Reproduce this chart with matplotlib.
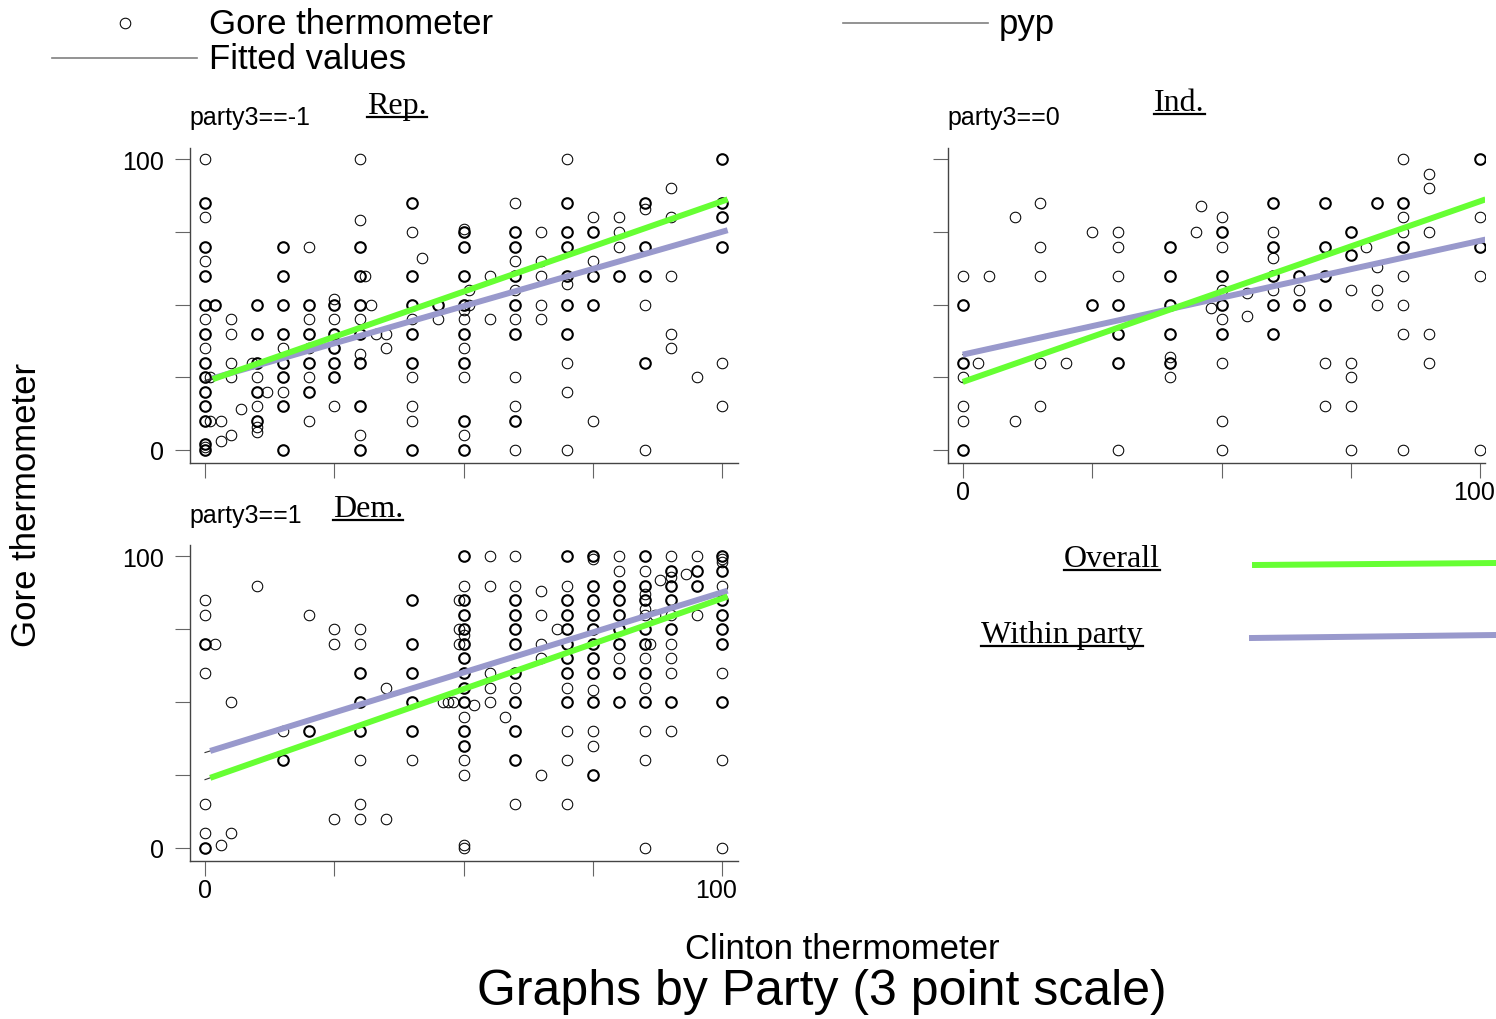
import matplotlib
matplotlib.use("Agg")
import matplotlib.pyplot as plt
from matplotlib.lines import Line2D
from matplotlib.transforms import ScaledTranslation
import numpy as np

W, H = 1496, 1020
SANS = "Liberation Sans"
SERIF = "Liberation Serif"

# points: x column -> list of y values; "multi" columns hold repeated answers
rep_single = {
    0: [100, 80, 65, 45, 35, 1], 1: [25, 10], 3: [10, 3], 5: [45, 40, 30, 25, 5],
    7: [14], 9: [30], 10: [25, 15, 8, 6], 12: [20], 15: [35, 20], 20: [70, 45, 35, 25, 10],
    25: [52, 45, 15], 30: [100, 79, 45, 33, 5], 31: [60], 32: [50], 33: [40], 35: [40, 35],
    40: [75, 45, 25, 15, 10], 42: [66], 45: [45], 50: [76, 48, 45, 35, 25, 5], 51: [55, 50],
    55: [60, 45], 60: [85, 65, 55, 45, 25, 15, 0], 65: [75, 65, 60, 50, 45],
    70: [100, 57, 30, 20, 0], 75: [80, 65, 10], 80: [80, 75, 70], 85: [83, 50, 0],
    90: [90, 80, 60, 40, 35], 95: [25], 100: [30, 15],
}
rep_multi = {
    0: [85, 70, 60, 50, 40, 30, 25, 20, 15, 10, 2, 0], 2: [50], 10: [50, 40, 30, 20, 10],
    15: [70, 60, 50, 40, 30, 25, 15, 0], 20: [50, 40, 30, 20], 25: [50, 40, 35, 30, 25],
    30: [70, 60, 50, 40, 30, 15, 0], 40: [85, 60, 50, 40, 30, 0], 45: [50],
    50: [75, 70, 60, 50, 40, 30, 10, 0], 60: [75, 70, 60, 50, 40, 10],
    70: [85, 75, 70, 60, 50, 40], 75: [75, 60, 50], 80: [60], 85: [85, 70, 60, 30],
    100: [100, 85, 80, 70],
}
ind_single = {
    0: [60, 25, 15, 10], 3: [30], 5: [60], 10: [80, 10], 15: [85, 70, 60, 30, 15], 20: [30],
    25: [75], 30: [75, 70, 60, 0], 40: [32, 25], 45: [75], 46: [84], 48: [49],
    50: [80, 70, 55, 45, 30, 10, 0], 55: [54, 46], 60: [75, 66, 55], 65: [55],
    70: [30, 15], 75: [55, 30, 25, 15, 0], 78: [70], 80: [63, 55, 50],
    85: [100, 80, 75, 60, 50, 40, 0], 90: [95, 90, 75, 40, 30], 100: [80, 60, 0],
}
ind_multi = {
    0: [50, 30, 0], 25: [50], 30: [50, 40, 30], 40: [70, 60, 50, 40, 30],
    50: [75, 60, 50, 40], 60: [85, 70, 60, 50, 40], 65: [60, 50], 70: [85, 70, 60, 50],
    75: [75, 67], 80: [85], 85: [85, 70], 100: [100, 70],
}
dem_single = {
    0: [85, 80, 60, 15, 5], 2: [70], 3: [1], 5: [50, 5], 10: [90], 15: [40], 20: [80],
    25: [75, 70, 10], 30: [75, 70, 30, 15, 10], 35: [55, 10], 40: [30], 46: [50],
    47: [50], 48: [50], 49: [85, 75, 70], 50: [90, 73, 45, 30, 25, 1, 0], 52: [49],
    55: [100, 90, 60, 55, 50], 58: [45], 60: [100, 90, 55, 15], 65: [88, 80, 70, 65, 25],
    68: [75], 70: [90, 55, 40, 30, 15], 75: [99, 54, 40, 35], 80: [100, 95, 65],
    85: [95, 87, 82, 80, 65, 55, 40, 30, 0], 86: [70], 87: [80], 88: [92],
    90: [100, 93, 80, 70, 65, 60, 40], 93: [94], 95: [100, 80], 100: [99, 98, 90, 60, 30, 0],
}
dem_multi = {
    0: [70, 0], 15: [30], 20: [40], 30: [60, 50, 40], 40: [85, 70, 60, 50, 40],
    50: [100, 85, 80, 75, 70, 65, 60, 55, 50, 40, 35], 60: [85, 80, 75, 70, 60, 50, 40, 30],
    70: [100, 85, 80, 75, 70, 65, 60, 50], 75: [100, 90, 85, 80, 75, 70, 65, 60, 50, 25],
    80: [90, 85, 80, 75, 70, 60, 50], 85: [100, 90, 85, 75, 70, 60, 50],
    90: [95, 90, 85, 75, 50], 95: [95, 90], 100: [100, 95, 85, 80, 75, 70, 50],
}

# fitted lines (intercept, slope)
overall_fit = (23.4, 0.622)
within_fit = {"rep": (23.9, 0.512), "ind": (32.8, 0.392), "dem": (32.7, 0.55)}

GREEN = "#66ff33"
PURPLE = "#9999cc"


def fx(px):
    return px / W


def fy(py):
    return 1 - py / H


def box(l, t, r, b):
    return [fx(l), fy(b), fx(r) - fx(l), fy(t) - fy(b)]


fig = plt.figure(figsize=(W / 100, H / 100), dpi=100)
fig.patch.set_facecolor("white")

panels = [
    ("rep", box(190, 149, 738, 464), rep_single, rep_multi, (-2.9, 103.0), 1.5, False, True),
    ("ind", box(948, 149, 1485, 464), ind_single, ind_multi, (-2.85, 100.9), 0.0, True, False),
    ("dem", box(190, 546, 738, 862), dem_single, dem_multi, (-2.9, 103.0), 1.0, True, True),
]

for key, pos, single, multi, xlim, x_start, xlab, ylab in panels:
    ax = fig.add_axes(pos)
    for cols, lw in ((single, 0.75), (multi, 1.5)):
        xs = [x for x, ys in cols.items() for _ in ys]
        ys = [y for ys in cols.values() for y in ys]
        ax.plot(xs, ys, "o", ms=7.6, mfc="none", mec="black", mew=lw, zorder=2)

    b0, b1 = within_fit[key]
    a0, a1 = overall_fit
    xx = np.array([0, 100])
    ax.plot(xx, b0 + b1 * xx, color="#333333", lw=0.8, zorder=3)
    ax.plot(xx, a0 + a1 * xx, color="#333333", lw=0.8, zorder=3)
    xt = np.array([x_start, 101.0])
    ax.plot(xt, b0 + b1 * xt, color=PURPLE, lw=4.3, solid_capstyle="butt", zorder=4)
    ax.plot(xt, a0 + a1 * xt, color=GREEN, lw=4.3, solid_capstyle="butt", zorder=5)

    ax.set_xlim(*xlim)
    ax.set_ylim(-4.5, 103.9)
    for s in ("top", "right"):
        ax.spines[s].set_visible(False)
    for s in ("left", "bottom"):
        ax.spines[s].set_color("#444444")
        ax.spines[s].set_linewidth(1.0)
    ax.set_xticks([0, 25, 50, 75, 100])
    ax.set_yticks([0, 25, 50, 75, 100])
    ax.set_xticklabels(["0", "", "", "", "100"] if xlab else [""] * 5,
                       fontfamily=SANS, fontsize=18)
    ax.set_yticklabels(["0", "", "", "", "100"] if ylab else [""] * 5,
                       fontfamily=SANS, fontsize=18)
    ax.tick_params(direction="out", length=10.5, width=0.8, color="#666666", pad=2)
    ax.tick_params(axis="y", pad=8)
    if xlab:
        lab = ax.get_xticklabels()[-1]
        lab.set_transform(lab.get_transform() + ScaledTranslation(-6 / 100, 0, fig.dpi_scale_trans))

# panel headers
for txt, x, y in (("party3==-1", 189, 125), ("party3==0", 947, 125), ("party3==1", 189, 523)):
    fig.text(fx(x), fy(y), txt, fontfamily=SANS, fontsize=18, va="baseline", ha="left")

# underlined serif labels
under = []
for txt, x, y in (("Rep.", 367, 114), ("Ind.", 1154, 111), ("Dem.", 333, 517),
                  ("Overall", 1064, 567), ("Within party", 981, 643)):
    t = fig.text(fx(x), fy(y), txt, fontfamily=SERIF, fontsize=23, va="baseline", ha="left")
    under.append((t, x, y))

# key lines on the right
fig.add_artist(Line2D([fx(1255), fx(1496)], [fy(566), fy(564)], color=GREEN, lw=4.3))
fig.add_artist(Line2D([fx(1252), fx(1496)], [fy(639), fy(636)], color=PURPLE, lw=4.3))

# top legend
fig.add_artist(Line2D([fx(125)], [fy(24)], marker="o", ms=7.6, mfc="none", mec="black", mew=0.75))
fig.text(fx(209), fy(34), "Gore thermometer", fontfamily=SANS, fontsize=25, va="baseline")
fig.add_artist(Line2D([fx(52), fx(197)], [fy(59), fy(59)], color="#808080", lw=1.2))
fig.text(fx(209), fy(69), "Fitted values", fontfamily=SANS, fontsize=25, va="baseline")
fig.add_artist(Line2D([fx(843), fx(988)], [fy(24), fy(24)], color="#808080", lw=1.2))
fig.text(fx(999), fy(34), "pyp", fontfamily=SANS, fontsize=25, va="baseline")

fig.text(fx(842), fy(959), "Clinton thermometer", fontfamily=SANS, fontsize=25,
         ha="center", va="baseline")
fig.text(fx(822), fy(1005), "Graphs by Party (3 point scale)", fontfamily=SANS, fontsize=36,
         ha="center", va="baseline")
fig.text(fx(27), fy(505), "Gore thermometer", fontfamily=SANS, fontsize=25,
         rotation=90, ha="center", va="center")

fig.canvas.draw()
rend = fig.canvas.get_renderer()
for t, x, y in under:
    bb = t.get_window_extent(rend)
    fig.add_artist(Line2D([fx(bb.x0), fx(bb.x1)], [fy(y + 4), fy(y + 4)], color="black", lw=1.6))

fig.savefig("out.png", dpi=100, facecolor="white")
